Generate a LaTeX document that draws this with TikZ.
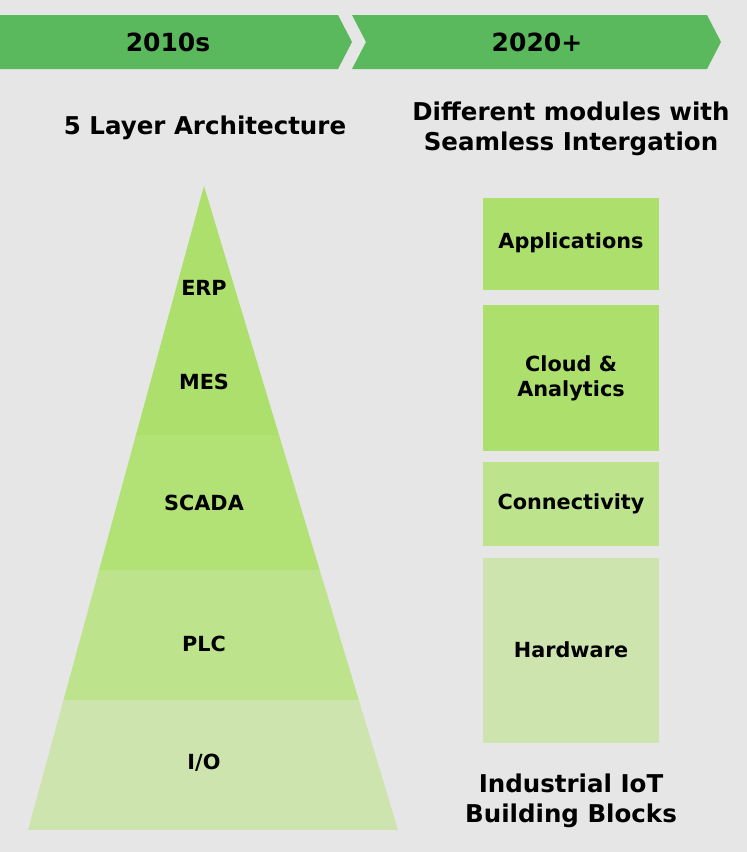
\documentclass[tikz,border=0pt]{standalone}
\usepackage{fontspec}
\setmainfont{DejaVu Sans}
\begin{document}
\begin{tikzpicture}[x=1pt,y=-1pt,
  lbl/.style={font=\bfseries\fontsize{20.8}{25}\selectfont, text=black, align=center, inner sep=0pt},
  ttl/.style={font=\bfseries\fontsize{24.5}{30.5}\selectfont, text=black, align=center, inner sep=0pt},
  ban/.style={font=\bfseries\fontsize{25}{30}\selectfont, text=black, align=center, inner sep=0pt}]
\definecolor{bg}{RGB}{230,230,230}
\definecolor{banner}{RGB}{91,185,93}
\definecolor{gA}{RGB}{172,223,108}
\definecolor{gB}{RGB}{178,225,118}
\definecolor{gC}{RGB}{189,228,141}
\definecolor{gD}{RGB}{205,228,174}
\fill[bg] (0,0) rectangle (747,852);
\useasboundingbox (0,0) rectangle (747,852);
% banners
\fill[banner] (0,15) -- (338,15) -- (352,42) -- (338,69) -- (0,69) -- cycle;
\fill[banner] (352,15) -- (707,15) -- (721,42) -- (707,69) -- (352,69) -- (366,42) -- cycle;
\node[ban] (b1) at (168,42) {2010s};
\node[ban] (b2) at (537,42) {2020+};
% titles
\node[ttl] (t1) at (205,128) {5 Layer Architecture};
\node[ttl] (t2) at (571,129) {Different modules with\\Seamless Intergation};
% pyramid
\begin{scope}
\clip (204,186) -- (398,830) -- (28,830) -- cycle;
\fill[gA] (0,180) rectangle (420,436);
\fill[gB] (0,435) rectangle (420,571);
\fill[gC] (0,570) rectangle (420,701);
\fill[gD] (0,700) rectangle (420,830);
\end{scope}
\node[lbl] (erp) at (204,288) {ERP};
\node[lbl] (mes) at (204,382) {MES};
\node[lbl] (scada) at (204,503) {SCADA};
\node[lbl] (plc) at (204,644) {PLC};
\node[lbl] (io) at (204,763) {I/O};
% building blocks
\fill[gA] (483,198) rectangle (659,290);
\fill[gA] (483,305) rectangle (659,451);
\fill[gC] (483,462) rectangle (659,546);
\fill[gD] (483,558) rectangle (659,743);
\node[lbl] (app) at (571,243) {Applications};
\node[lbl] (cloud) at (571,378) {Cloud \&\\Analytics};
\node[lbl] (conn) at (571,504) {Connectivity};
\node[lbl] (hw) at (571,650) {Hardware};
\node[ttl] (t3) at (571,801) {Industrial IoT\\Building Blocks};
\end{tikzpicture}
\end{document}
